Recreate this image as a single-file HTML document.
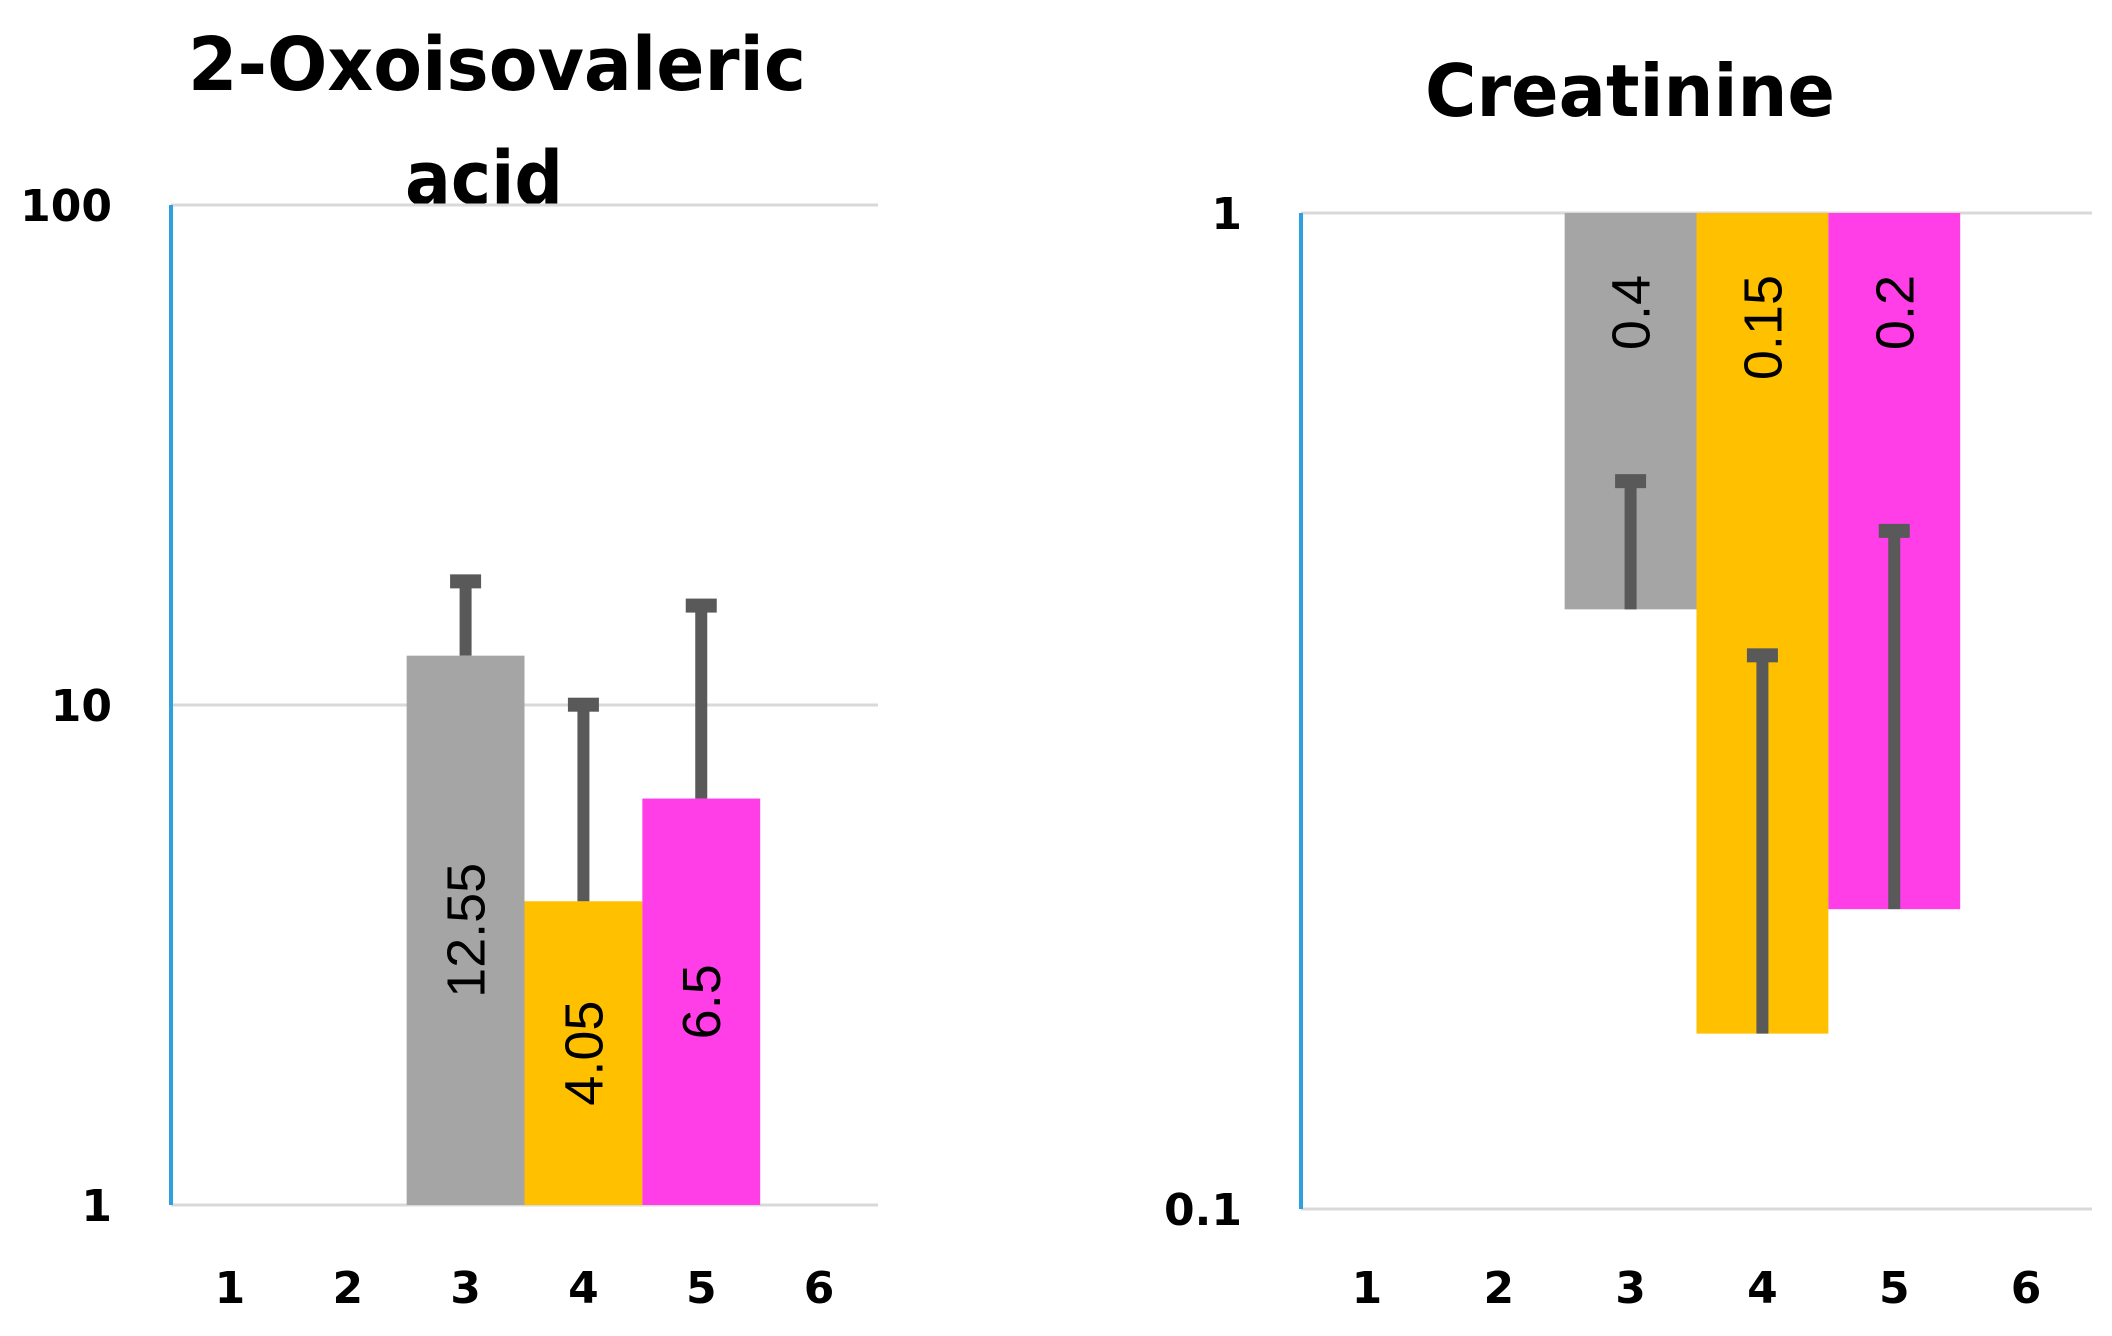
<!DOCTYPE html>
<html><head><meta charset="utf-8"><style>
html,body{margin:0;padding:0;background:#fff;}
svg{display:block;}
text{font-family:"DejaVu Sans","Liberation Sans",sans-serif;}
</style></head><body>
<svg id="c" width="2112" height="1336" viewBox="0 0 2112 1336" xmlns="http://www.w3.org/2000/svg">
<text x="497" y="90" text-anchor="middle" font-size="74" font-weight="bold" textLength="618" lengthAdjust="spacingAndGlyphs">2-Oxoisovaleric</text>
<text x="484" y="204" text-anchor="middle" font-size="74" font-weight="bold" textLength="158" lengthAdjust="spacingAndGlyphs">acid</text>
<text x="1630" y="116" text-anchor="middle" font-size="72" font-weight="bold" textLength="410" lengthAdjust="spacingAndGlyphs">Creatinine</text>
<g id="left"></g>
<g id="right"></g>
</svg>
<script>
const categories = ["1","2","3","4","5","6"];
const leftValues = [null, null, 12.55, 4.05, 6.5, null];
const leftErrTop = [null, null, 18.0, 10.2, 16.1, null];
const leftLabels = ["", "", "12.55", "4.05", "6.5", ""];
const leftTicks = [1, 10, 100];
const leftTickLabels = ["1", "10", "100"];
const rightValues = [null, null, 0.40, 0.15, 0.20, null];
const rightErrTop = [null, null, 0.543, 0.363, 0.484, null];
const rightLabels = ["", "", "0.4", "0.15", "0.2", ""];
const rightTicks = [0.1, 1];
const rightTickLabels = ["0.1", "1"];
const colors = [null, null, "#a5a5a5", "#ffc000", "#ff3ee8", null];

const NS = "http://www.w3.org/2000/svg";
function mk(parent, tag, attrs, txt) {
  const e = document.createElementNS(NS, tag);
  for (const k in attrs) e.setAttribute(k, attrs[k]);
  if (txt !== undefined) e.textContent = txt;
  parent.appendChild(e);
  return e;
}

function drawChart(g, cfg) {
  const {x0, x1, yTop, yBot, vMin, vMax, values, errs, labels, ticks, tickLabels, tickRight, hanging, name} = cfg;
  const decs = Math.log10(vMax) - Math.log10(vMin);
  const y = v => yBot - (Math.log10(v) - Math.log10(vMin)) / decs * (yBot - yTop);
  const bw = (x1 - x0) / categories.length;
  const xc = i => x0 + bw * (i + 0.5);
  ticks.forEach((t, i) => {
    const gl = mk(g, "line", {x1: x0, x2: x1, y1: y(t), y2: y(t), stroke: "#d9d9d9", "stroke-width": 3});
    
    
    const tl = mk(g, "text", {x: tickRight, y: y(t) + 16, "text-anchor": "end", "font-size": 44, "font-weight": "bold"}, tickLabels[i]);
    
    
  });
  const ax = mk(g, "line", {x1: x0, x2: x0, y1: yTop, y2: yBot, stroke: "#2ea0e0", "stroke-width": 4});
  
  
  categories.forEach((c, i) => {
    const xl = mk(g, "text", {x: xc(i), y: 1303, "text-anchor": "middle", "font-size": 44, "font-weight": "bold"}, c);
    
    
    const v = values[i];
    if (v == null) return;
    const base = hanging ? vMax : vMin;
    const yv = y(v), yb = y(base);
    const top = Math.min(yv, yb), h = Math.abs(yv - yb);
    const bar = mk(g, "rect", {x: xc(i) - bw / 2, y: top, width: bw, height: h, fill: colors[i]});
    
    
    const ye = y(errs[i]);
    const el = mk(g, "line", {x1: xc(i), x2: xc(i), y1: yv, y2: ye, stroke: "#595959", "stroke-width": 12});
    
    
    const cap = mk(g, "rect", {x: xc(i) - 15.5, y: ye - 3, width: 31, height: 14, fill: "#595959"});
    
    
    let lx = xc(i) + 19, ly, anchor;
    if (hanging) { ly = yb + 62; anchor = "end"; }
    else { ly = (yv + yb) / 2; anchor = "middle"; }
    const lab = mk(g, "text", {x: lx, y: ly, "text-anchor": anchor, "font-size": 54, fill: "#000",
      transform: "rotate(-90 " + lx + " " + ly + ")", style: 'font-family:"Liberation Sans",sans-serif'}, labels[i]);
    
    
  });
}

drawChart(document.getElementById("left"), {
  x0: 171, x1: 878, yTop: 205, yBot: 1205, vMin: 1, vMax: 100,
  values: leftValues, errs: leftErrTop, labels: leftLabels, ticks: leftTicks, tickLabels: leftTickLabels,
  tickRight: 112, hanging: false, name: "left"
});
drawChart(document.getElementById("right"), {
  x0: 1301, x1: 2092, yTop: 213, yBot: 1209, vMin: 0.1, vMax: 1,
  values: rightValues, errs: rightErrTop, labels: rightLabels, ticks: rightTicks, tickLabels: rightTickLabels,
  tickRight: 1242, hanging: true, name: "right"
});
</script>
</body></html>
